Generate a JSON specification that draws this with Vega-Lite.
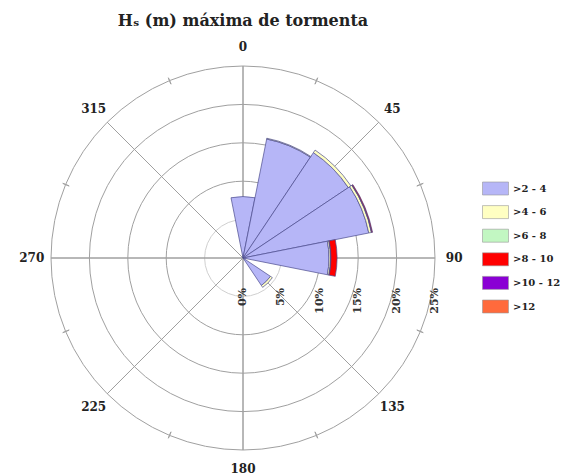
{
  "$schema": "https://vega.github.io/schema/vega-lite/v6.json",
  "width": 486,
  "height": 436,
  "autosize": {"type": "none"},
  "padding": {"left": 0, "top": 40, "right": 82, "bottom": 0},
  "background": "white",
  "config": {"view": {"stroke": null}},
  "title": {"text": "Hₛ (m) máxima de tormenta", "font": "DejaVu Serif", "fontSize": 16, "fontWeight": "bold", "anchor": "middle", "offset": 11, "color": "#222222"},
  "datasets": {
    "rose": [
      {"dir": 0, "cls": ">2 - 4", "order": 1, "pct": 8.0},
      {"dir": 22.5, "cls": ">2 - 4", "order": 1, "pct": 15.8},
      {"dir": 22.5, "cls": ">4 - 6", "order": 2, "pct": 0.1},
      {"dir": 45, "cls": ">2 - 4", "order": 1, "pct": 16.5},
      {"dir": 45, "cls": ">4 - 6", "order": 2, "pct": 0.4},
      {"dir": 67.5, "cls": ">2 - 4", "order": 1, "pct": 16.7},
      {"dir": 67.5, "cls": ">4 - 6", "order": 2, "pct": 0.35},
      {"dir": 67.5, "cls": ">6 - 8", "order": 3, "pct": 0.05},
      {"dir": 67.5, "cls": ">8 - 10", "order": 4, "pct": 0.1},
      {"dir": 90, "cls": ">2 - 4", "order": 1, "pct": 11.2},
      {"dir": 90, "cls": ">4 - 6", "order": 2, "pct": 0.2},
      {"dir": 90, "cls": ">6 - 8", "order": 3, "pct": 0.05},
      {"dir": 90, "cls": ">8 - 10", "order": 4, "pct": 0.8},
      {"dir": 135, "cls": ">2 - 4", "order": 1, "pct": 4.3},
      {"dir": 135, "cls": ">4 - 6", "order": 2, "pct": 0.3}
    ],
    "rings": [{"r": 5}, {"r": 10}, {"r": 15}, {"r": 20}, {"r": 25}],
    "spokes": [{"dir": 0}, {"dir": 45}, {"dir": 90}, {"dir": 135}, {"dir": 180}, {"dir": 225}, {"dir": 270}, {"dir": 315}],
    "ticks": [{"dir": 22.5}, {"dir": 67.5}, {"dir": 112.5}, {"dir": 157.5}, {"dir": 202.5}, {"dir": 247.5}, {"dir": 292.5}, {"dir": 337.5}],
    "dirlabels": [
      {"dir": 0, "label": "0"}, {"dir": 45, "label": "45"}, {"dir": 90, "label": "90"}, {"dir": 135, "label": "135"},
      {"dir": 180, "label": "180"}, {"dir": 225, "label": "225"}, {"dir": 270, "label": "270"}, {"dir": 315, "label": "315"}
    ],
    "pctlabels": [
      {"r": 0, "label": "0%"}, {"r": 5, "label": "5%"}, {"r": 10, "label": "10%"},
      {"r": 15, "label": "15%"}, {"r": 20, "label": "20%"}, {"r": 25, "label": "25%"}
    ]
  },
  "layer": [
    {
      "data": {"name": "rings"},
      "mark": {"type": "arc", "filled": false, "theta": 0, "theta2": 6.2832, "strokeWidth": 1},
      "encoding": {
        "radius": {"field": "r", "type": "quantitative", "stack": null, "scale": {"type": "linear", "domain": [0, 25], "range": [0, 192], "zero": true}},
        "stroke": {"condition": {"test": "datum.r === 5", "value": "#d0d0d0"}, "value": "#a0a0a0"}
      }
    },
    {
      "data": {"name": "spokes"},
      "mark": {"type": "arc", "filled": false, "stroke": "#a0a0a0", "strokeWidth": 1},
      "encoding": {
        "theta": {"field": "dir", "type": "quantitative", "stack": null, "scale": {"domain": [0, 360], "range": [0, 6.283185307179586]}},
        "theta2": {"field": "dir"},
        "radius": {"datum": 25, "type": "quantitative"}
      }
    },
    {
      "data": {"name": "ticks"},
      "mark": {"type": "arc", "filled": false, "stroke": "#a0a0a0", "strokeWidth": 1},
      "encoding": {
        "theta": {"field": "dir", "type": "quantitative", "stack": null},
        "theta2": {"field": "dir"},
        "radius": {"datum": 25.4, "type": "quantitative"},
        "radius2": {"datum": 24.5}
      }
    },
    {
      "data": {"name": "rose"},
      "transform": [
        {"stack": "pct", "groupby": ["dir"], "sort": [{"field": "order", "order": "ascending"}], "as": ["r0", "r1"]},
        {"calculate": "datum.dir - 11.25", "as": "a0"},
        {"calculate": "datum.dir + 11.25", "as": "a1"}
      ],
      "mark": {"type": "arc", "stroke": "#4b4b8c", "strokeWidth": 0.7},
      "encoding": {
        "theta": {"field": "a0", "type": "quantitative", "stack": null},
        "theta2": {"field": "a1"},
        "radius": {"field": "r1", "type": "quantitative", "stack": null},
        "radius2": {"field": "r0"},
        "color": {
          "field": "cls", "type": "nominal",
          "scale": {"domain": [">2 - 4", ">4 - 6", ">6 - 8", ">8 - 10", ">10 - 12", ">12"], "range": ["#b6b6f7", "#ffffc2", "#c2f7c2", "#ff0000", "#8a00d4", "#ff6a3c"]},
          "legend": {
            "title": null, "orient": "none", "legendX": 482, "legendY": 135, "padding": 0,
            "symbolType": "M-1,-0.5H1V0.5H-1Z", "symbolSize": 676, "symbolStrokeColor": "#999999", "symbolStrokeWidth": 0.6, "symbolOpacity": 1,
            "labelFont": "DejaVu Serif", "labelFontWeight": "bold", "labelFontSize": 10, "labelColor": "#222222", "labelOffset": 4, "rowPadding": 1.6
          }
        },
        "order": {"field": "order"}
      }
    },
    {
      "data": {"name": "dirlabels"},
      "mark": {"type": "text", "font": "DejaVu Serif", "fontWeight": "bold", "fontSize": 12, "color": "#222222", "align": "center", "baseline": "middle"},
      "encoding": {
        "theta": {"field": "dir", "type": "quantitative", "stack": null},
        "radius": {"datum": 27.5, "type": "quantitative"},
        "text": {"field": "label"}
      }
    },
    {
      "data": {"name": "pctlabels"},
      "mark": {"type": "text", "font": "DejaVu Serif", "fontWeight": "bold", "fontSize": 11, "color": "#333333", "align": "right", "baseline": "middle", "angle": 270, "dx": -30},
      "encoding": {
        "theta": {"datum": 90, "type": "quantitative"},
        "radius": {"field": "r", "type": "quantitative", "stack": null},
        "text": {"field": "label"}
      }
    }
  ]
}
